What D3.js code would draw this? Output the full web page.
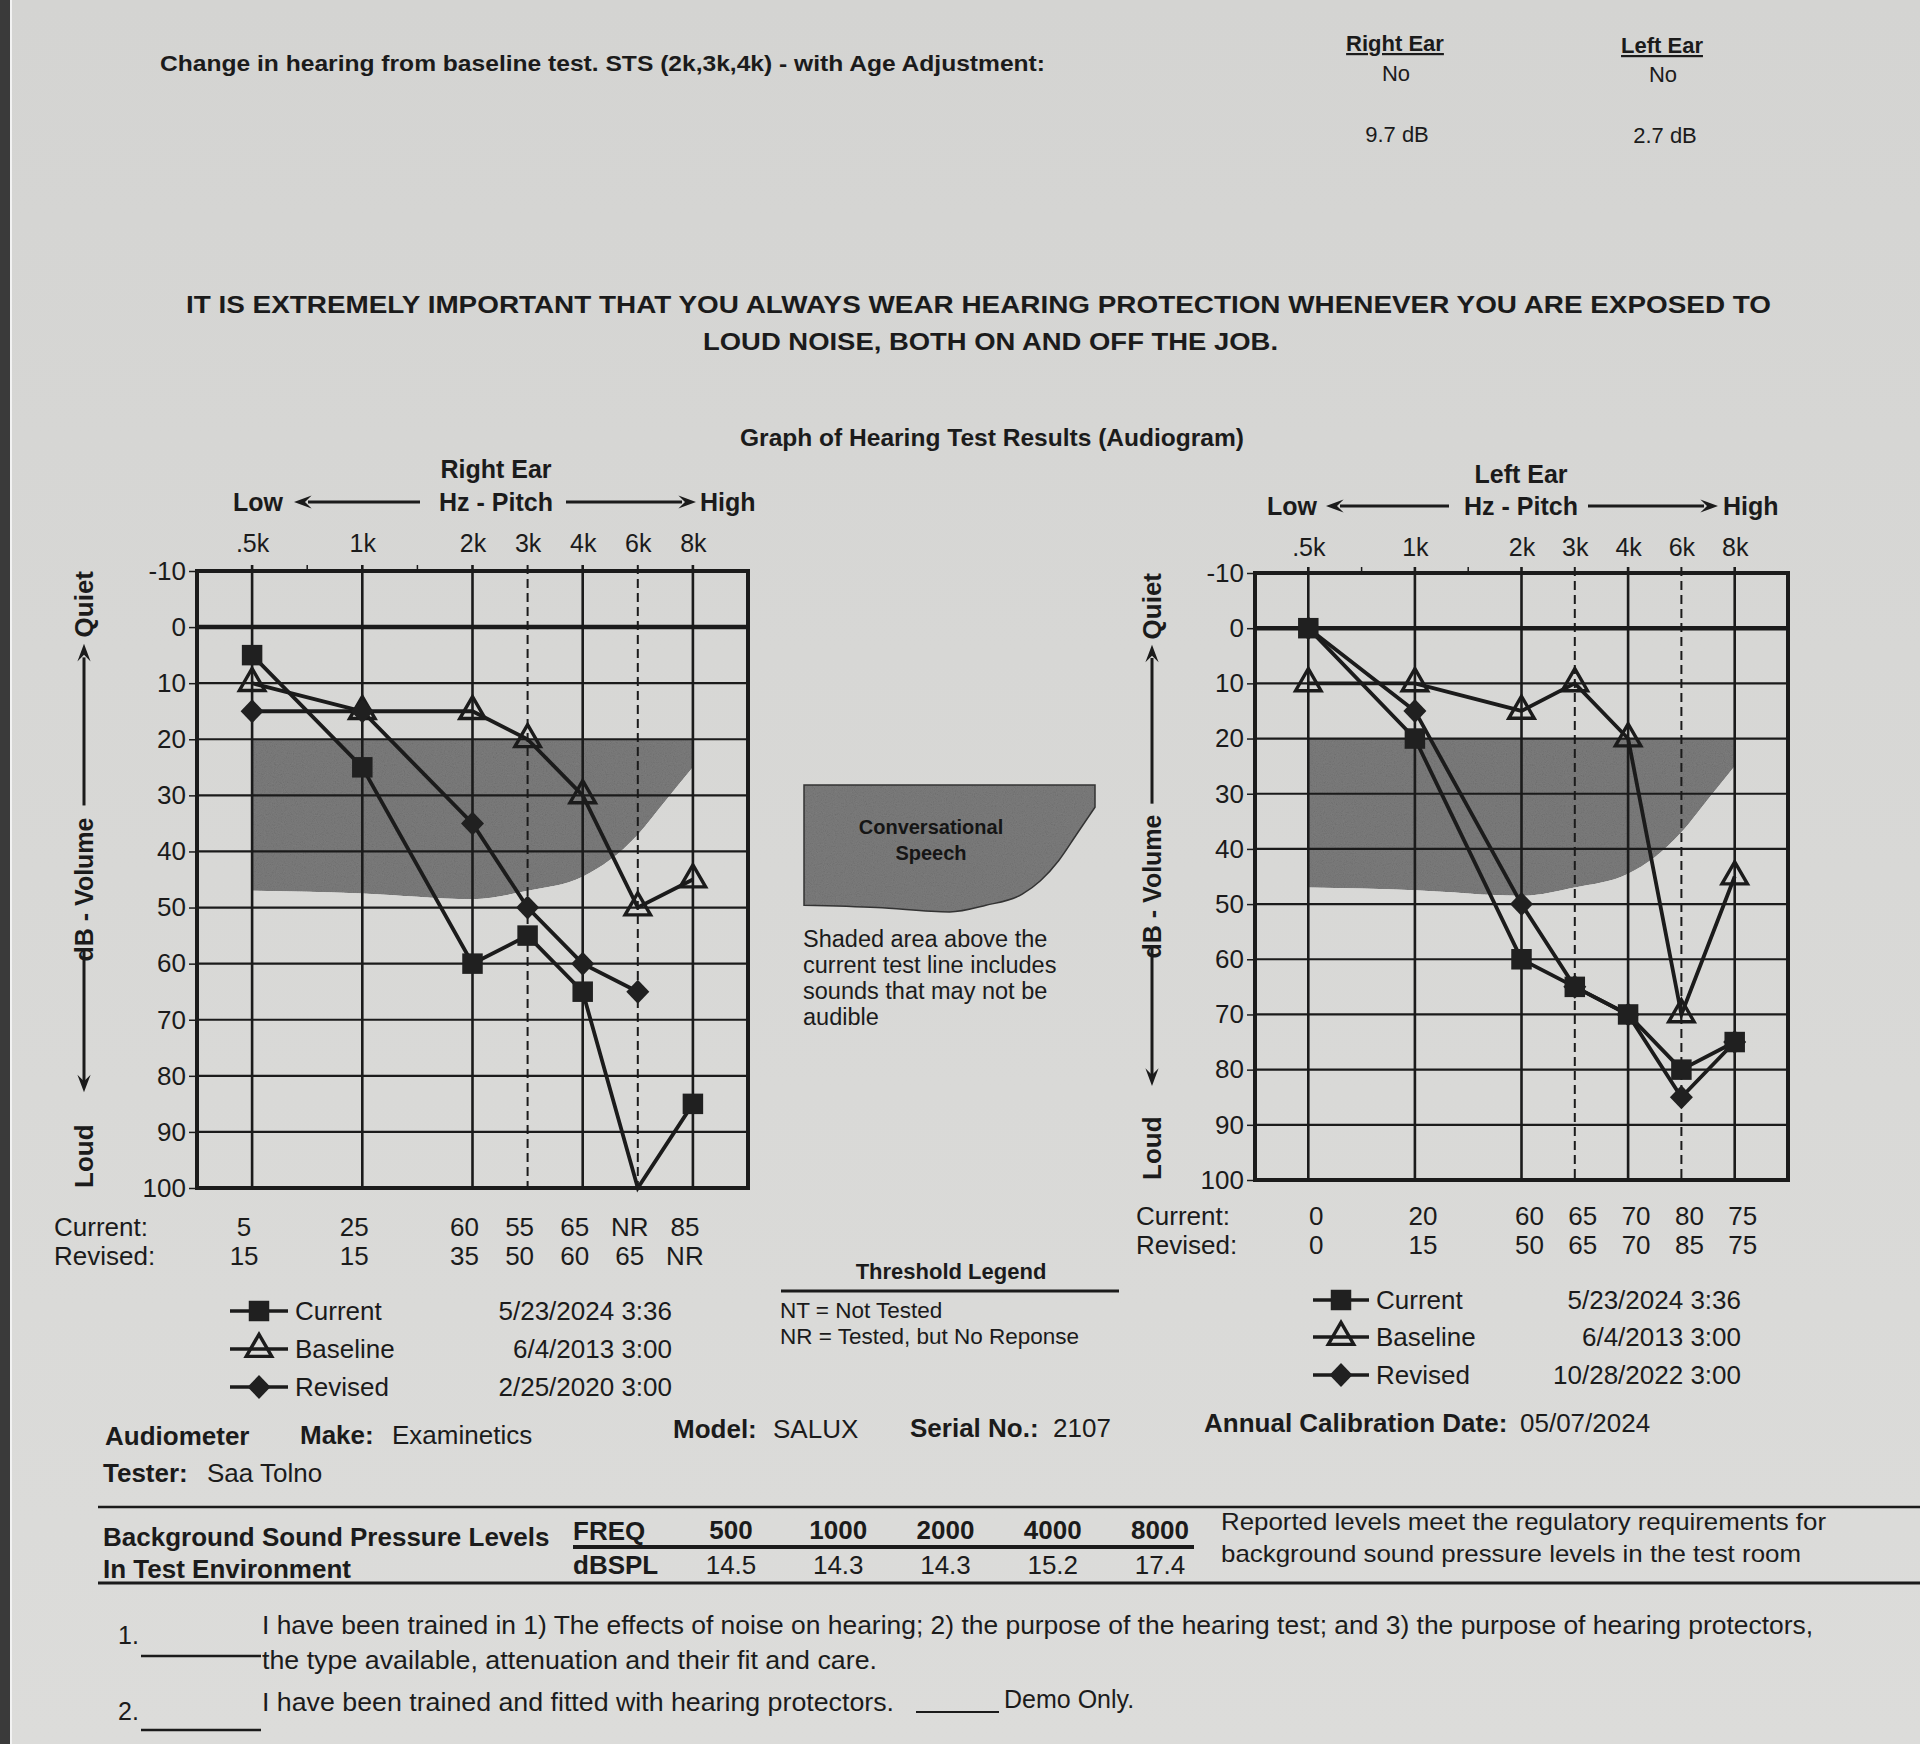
<!DOCTYPE html>
<html><head><meta charset="utf-8">
<script src="https://cdn.jsdelivr.net/npm/d3@7"></script>
<style>body{margin:0;background:#d7d7d5}svg{display:block;font-family:"Liberation Sans",Arial,sans-serif}</style>
</head><body><svg id="c" width="1920" height="1744"></svg>
<script>
// ---------------- data ----------------
const freqs = [500, 1000, 2000, 3000, 4000, 6000, 8000];
const freqLabels = [".5k", "1k", "2k", "3k", "4k", "6k", "8k"];
const dashedFreqs = [3000, 6000];
const minorFreqs = [750, 1500];
const dbTicks = [-10, 0, 10, 20, 30, 40, 50, 60, 70, 80, 90, 100];
const speechTop = 20;
const speechFreqs = [500, 1000, 2000, 3000, 4000, 5000, 6000, 7000, 8000];
const speechBottom = [47, 47.5, 48.5, 47, 44.5, 41.5, 37, 31, 25];

const rightCurrent = [5, 25, 60, 55, 65, 100, 85];
const rightCurrentText = ["5", "25", "60", "55", "65", "NR", "85"];
const rightBaseline = [10, 15, 15, 20, 30, 50, 45];
const rightRevised = [15, 15, 35, 50, 60, 65, null];
const rightRevisedText = ["15", "15", "35", "50", "60", "65", "NR"];

const leftCurrent = [0, 20, 60, 65, 70, 80, 75];
const leftCurrentText = ["0", "20", "60", "65", "70", "80", "75"];
const leftBaseline = [10, 10, 15, 10, 20, 70, 45];
const leftRevised = [0, 15, 50, 65, 70, 85, 75];
const leftRevisedText = ["0", "15", "50", "65", "70", "85", "75"];

const legendSeries = ["Current", "Baseline", "Revised"];
const rightDates = ["5/23/2024 3:36", "6/4/2013 3:00", "2/25/2020 3:00"];
const leftDates = ["5/23/2024 3:36", "6/4/2013 3:00", "10/28/2022 3:00"];

const bgFreqs = ["500", "1000", "2000", "4000", "8000"];
const bgLevels = ["14.5", "14.3", "14.3", "15.2", "17.4"];

// ---------------- drawing ----------------
const INK = "#1b1b1b";
const SHADE = "#7b7b7b";
const svg = d3.select("#c");
const defs = svg.append("defs");
const bg = defs.append("linearGradient").attr("id", "paper").attr("x1", 0).attr("y1", 0).attr("x2", 0).attr("y2", 1);
bg.append("stop").attr("offset", "0").attr("stop-color", "#d4d4d2");
bg.append("stop").attr("offset", "1").attr("stop-color", "#dcdcda");
const f = defs.append("filter").attr("id", "grain").attr("x", 0).attr("y", 0).attr("width", "100%").attr("height", "100%");
f.append("feTurbulence").attr("type", "fractalNoise").attr("baseFrequency", 0.9).attr("numOctaves", 2).attr("seed", 4).attr("result", "n");
f.append("feColorMatrix").attr("in", "n").attr("type", "saturate").attr("values", 0).attr("result", "g");
const ct = f.append("feComponentTransfer").attr("in", "g").attr("result", "g2");
["feFuncR", "feFuncG", "feFuncB"].forEach(k => ct.append(k).attr("type", "linear").attr("slope", 0.7).attr("intercept", 0.5));
f.append("feBlend").attr("in", "SourceGraphic").attr("in2", "g2").attr("mode", "multiply").attr("result", "b");
f.append("feComposite").attr("in", "b").attr("in2", "SourceGraphic").attr("operator", "in");

svg.append("rect").attr("width", 1920).attr("height", 1744).attr("fill", "url(#paper)");
svg.append("rect").attr("x", 0).attr("y", 0).attr("width", 10).attr("height", 1744).attr("fill", "#3a3a3a");
svg.append("rect").attr("x", 10).attr("y", 0).attr("width", 2).attr("height", 1744).attr("fill", "#f2f2f2");

function txt(sel, x, y, s, o = {}) {
  const t = sel.append("text").attr("x", x).attr("y", y).text(s)
    .attr("font-size", o.fs || 22).attr("font-weight", o.b ? "bold" : "normal")
    .attr("text-anchor", o.a || "start").attr("fill", o.fill || INK);
  if (o.tl) t.attr("textLength", o.tl).attr("lengthAdjust", "spacingAndGlyphs");
  if (o.u) t.attr("text-decoration", "underline");
  return t;
}
function hline(sel, x1, x2, y, w) {
  sel.append("line").attr("x1", x1).attr("x2", x2).attr("y1", y).attr("y2", y).attr("stroke", INK).attr("stroke-width", w || 2);
}

// ---- header ----
txt(svg, 160, 71, "Change in hearing from baseline test. STS (2k,3k,4k) - with Age Adjustment:", {fs: 22, b: true, tl: 885});
txt(svg, 1395, 51, "Right Ear", {fs: 22, b: true, a: "middle", u: true});
txt(svg, 1662, 53, "Left Ear", {fs: 22, b: true, a: "middle", u: true});
txt(svg, 1396, 81, "No", {fs: 22, a: "middle"});
txt(svg, 1663, 82, "No", {fs: 22, a: "middle"});
txt(svg, 1397, 142, "9.7 dB", {fs: 22, a: "middle"});
txt(svg, 1665, 143, "2.7 dB", {fs: 22, a: "middle"});
txt(svg, 186, 313, "IT IS EXTREMELY IMPORTANT THAT YOU ALWAYS WEAR HEARING PROTECTION WHENEVER YOU ARE EXPOSED TO", {fs: 24, b: true, tl: 1585});
txt(svg, 703, 350, "LOUD NOISE, BOTH ON AND OFF THE JOB.", {fs: 24, b: true, tl: 575});
txt(svg, 992, 446, "Graph of Hearing Test Results (Audiogram)", {fs: 24, b: true, a: "middle", tl: 504});

// ---- markers ----
const markerPath = {
  Current: d3.symbol(d3.symbolSquare, 420)(),
  Baseline: d3.symbol(d3.symbolTriangle, 280)(),
  Revised: "M0,-12L11.5,0L0,12L-11.5,0Z"
};
function marker(sel, type, cx, cy) {
  const p = sel.append("path").attr("d", markerPath[type]).attr("transform", `translate(${cx},${cy})`);
  if (type === "Baseline") p.attr("fill", "none").attr("stroke", INK).attr("stroke-width", 3.4).attr("stroke-linejoin", "miter");
  else p.attr("fill", "#202020");
  return p;
}
function arrowHead(sel, x, y, dir, s) {
  s = s || 12;
  let pts;
  if (dir === "l") pts = [[x, y], [x + s * 1.6, y - s * 0.6], [x + s, y], [x + s * 1.6, y + s * 0.6]];
  if (dir === "r") pts = [[x, y], [x - s * 1.6, y - s * 0.6], [x - s, y], [x - s * 1.6, y + s * 0.6]];
  if (dir === "u") pts = [[x, y], [x - s * 0.6, y + s * 1.6], [x, y + s], [x + s * 0.6, y + s * 1.6]];
  if (dir === "d") pts = [[x, y], [x - s * 0.6, y - s * 1.6], [x, y - s], [x + s * 0.6, y - s * 1.6]];
  sel.append("path").attr("d", "M" + pts.map(p => p.join(",")).join("L") + "Z").attr("fill", INK);
}

// ---- audiogram ----
function audiogram(c) {
  const g = svg.append("g");
  const L = c.left, T = c.top, W = c.w, H = c.h;
  const units = [1, 3, 5, 6, 7, 8, 9];
  const x = d3.scaleLinear().domain(freqs).range(units.map(u => L + u * W / 10));
  const y = d3.scaleLinear().domain([-10, 100]).range([T, T + H]);

  // titles
  txt(g, c.titleX, c.titleY, c.title, {fs: 25, b: true, a: "middle"});
  txt(g, c.lowX, c.pitchY, "Low", {fs: 25, b: true});
  txt(g, c.titleX, c.pitchY, "Hz - Pitch", {fs: 25, b: true, a: "middle"});
  txt(g, c.highX, c.pitchY, "High", {fs: 25, b: true});
  const ay = c.pitchY - 9;
  hline(g, c.arrL[0] + 14, c.arrL[1], ay, 3);
  arrowHead(g, c.arrL[0], ay, "l", 11);
  hline(g, c.arrR[0], c.arrR[1] - 14, ay, 3);
  arrowHead(g, c.arrR[1], ay, "r", 11);

  // speech banana
  const sp = speechFreqs.map((fq, i) => ({f: fq, v: speechBottom[i]}));
  const area = d3.area().x(d => x(d.f)).y0(() => y(speechTop)).y1(d => y(d.v)).curve(d3.curveMonotoneX);
  g.append("path").attr("d", area(sp)).attr("fill", SHADE).attr("filter", "url(#grain)");

  // grid
  dbTicks.filter(d => d !== -10 && d !== 100).forEach(d => {
    hline(g, L, L + W, y(d), d === 0 ? 4.5 : 2.2);
  });
  freqs.forEach(fq => {
    const dashed = dashedFreqs.includes(fq);
    g.append("line").attr("x1", x(fq)).attr("x2", x(fq)).attr("y1", T - 6).attr("y2", T + H)
      .attr("stroke", INK).attr("stroke-width", dashed ? 2 : 2.6)
      .attr("stroke-dasharray", dashed ? "9,5" : null);
  });
  minorFreqs.forEach(fq => {
    g.append("line").attr("x1", x(fq)).attr("x2", x(fq)).attr("y1", T - 6).attr("y2", T).attr("stroke", INK).attr("stroke-width", 1.5);
  });
  g.append("rect").attr("x", L).attr("y", T).attr("width", W).attr("height", H)
    .attr("fill", "none").attr("stroke", INK).attr("stroke-width", 4);

  // axes
  const ya = g.append("g").attr("transform", `translate(${L},0)`)
    .call(d3.axisLeft(y).tickValues(dbTicks).tickFormat(d => String(d)).tickSize(8).tickPadding(3));
  ya.select(".domain").remove();
  ya.selectAll("line").attr("stroke", INK).attr("stroke-width", 1.5);
  ya.selectAll("text").attr("font-size", 26).attr("fill", INK).attr("font-family", "Liberation Sans, Arial, sans-serif");
  const xa = g.append("g").attr("transform", `translate(0,${T})`)
    .call(d3.axisTop(x).tickValues(freqs).tickFormat((d, i) => freqLabels[i]).tickSize(0).tickPadding(T - c.freqY));
  xa.select(".domain").remove();
  xa.selectAll("text").attr("font-size", 25).attr("fill", INK).attr("font-family", "Liberation Sans, Arial, sans-serif");

  // rotated y title
  const rg = g.append("g").attr("transform", `translate(${c.axX},0) rotate(-90)`);
  txt(rg, -(T + H), 9, "Loud", {fs: 26, b: true});
  txt(rg, -(T + H / 2 + 10), 9, "dB - Volume", {fs: 25, b: true, a: "middle"});
  txt(rg, -T, 9, "Quiet", {fs: 26, b: true, a: "end"});
  g.append("line").attr("x1", c.axX).attr("x2", c.axX).attr("y1", T + H * 0.613).attr("y2", T + H * 0.83).attr("stroke", INK).attr("stroke-width", 3);
  arrowHead(g, c.axX, T + H * 0.845, "d", 11);
  g.append("line").attr("x1", c.axX).attr("x2", c.axX).attr("y1", T + H * 0.38).attr("y2", T + H * 0.14).attr("stroke", INK).attr("stroke-width", 3);
  arrowHead(g, c.axX, T + H * 0.118, "u", 11);

  // series lines
  const line = d3.line().defined(d => d.v != null).x(d => x(d.f)).y(d => y(d.v));
  const series = [
    {name: "Baseline", vals: c.baseline, txt: null},
    {name: "Revised", vals: c.revised, txt: c.revisedText},
    {name: "Current", vals: c.current, txt: c.currentText}
  ];
  series.forEach(s => {
    const pts = freqs.map((fq, i) => ({f: fq, v: s.vals[i]}));
    g.append("path").attr("d", line(pts)).attr("fill", "none").attr("stroke", INK)
      .attr("stroke-width", 3.8).attr("stroke-linejoin", "miter");
  });
  series.forEach(s => {
    freqs.forEach((fq, i) => {
      if (s.vals[i] == null) return;
      if (s.txt && s.txt[i] === "NR") return;
      marker(g, s.name, x(fq), y(s.vals[i]));
    });
  });

  // threshold value rows
  txt(g, c.rowLabelX, c.curY, "Current:", {fs: 26});
  txt(g, c.rowLabelX, c.revY, "Revised:", {fs: 26});
  freqs.forEach((fq, i) => {
    txt(g, x(fq) + c.valOff, c.curY, c.currentText[i], {fs: 26, a: "middle"});
    txt(g, x(fq) + c.valOff, c.revY, c.revisedText[i], {fs: 26, a: "middle"});
  });

  // legend
  legendSeries.forEach((s, i) => {
    const ly = c.legY[i];
    hline(g, c.legX[0], c.legX[1], ly - 9, 3.5);
    marker(g, s, (c.legX[0] + c.legX[1]) / 2, ly - 9);
    txt(g, c.legLabelX, ly, s, {fs: 26});
    txt(g, c.legDateX, ly, c.dates[i], {fs: 26, a: "end"});
  });
}

audiogram({
  title: "Right Ear", left: 197, top: 571, w: 551, h: 617,
  titleX: 496, titleY: 478, pitchY: 511, lowX: 233, highX: 700,
  arrL: [294, 420], arrR: [566, 696], freqY: 552, axX: 84,
  current: rightCurrent, currentText: rightCurrentText,
  baseline: rightBaseline, revised: rightRevised, revisedText: rightRevisedText,
  rowLabelX: 54, curY: 1236, revY: 1265, valOff: -8,
  legX: [230, 288], legLabelX: 295, legDateX: 672, legY: [1320, 1358, 1396], dates: rightDates
});
audiogram({
  title: "Left Ear", left: 1255, top: 573, w: 533, h: 607,
  titleX: 1521, titleY: 483, pitchY: 515, lowX: 1267, highX: 1723,
  arrL: [1326, 1449], arrR: [1588, 1718], freqY: 556, axX: 1152,
  current: leftCurrent, currentText: leftCurrentText,
  baseline: leftBaseline, revised: leftRevised, revisedText: leftRevisedText,
  rowLabelX: 1136, curY: 1225, revY: 1254, valOff: 8,
  legX: [1313, 1369], legLabelX: 1376, legDateX: 1741, legY: [1309, 1346, 1384], dates: leftDates
});

// ---- middle: speech icon + notes ----
(function () {
  const g = svg.append("g");
  const units = [1, 3, 5, 6, 7, 8, 9];
  const mx = d3.scaleLinear().domain(freqs).range(units.map(u => 804 + (u - 1) * 291 / 8));
  const my = d3.scaleLinear().domain([speechTop, 48.5]).range([785, 912]);
  const sp = speechFreqs.map((fq, i) => ({f: fq, v: speechBottom[i]}));
  const area = d3.area().x(d => mx(d.f)).y0(() => my(speechTop)).y1(d => my(d.v)).curve(d3.curveMonotoneX);
  g.append("path").attr("d", area(sp)).attr("fill", SHADE).attr("filter", "url(#grain)");
  g.append("path").attr("d", area(sp)).attr("fill", "none").attr("stroke", "#333").attr("stroke-width", 1.5);
  txt(g, 931, 834, "Conversational", {fs: 20, b: true, a: "middle", fill: "#151515"});
  txt(g, 931, 860, "Speech", {fs: 20, b: true, a: "middle", fill: "#151515"});
  ["Shaded area above the", "current test line includes", "sounds that may not be", "audible"].forEach((s, i) => {
    txt(g, 803, 947 + i * 26, s, {fs: 23.5});
  });
  txt(g, 951, 1279, "Threshold Legend", {fs: 22, b: true, a: "middle"});
  hline(g, 781, 1119, 1291, 3);
  txt(g, 780, 1318, "NT = Not Tested", {fs: 22.5});
  txt(g, 780, 1344, "NR = Tested, but No Reponse", {fs: 22.5});
})();

// ---- audiometer info ----
txt(svg, 105, 1445, "Audiometer", {fs: 26, b: true});
txt(svg, 300, 1444, "Make:", {fs: 26, b: true});
txt(svg, 392, 1444, "Examinetics", {fs: 26});
txt(svg, 673, 1438, "Model:", {fs: 26, b: true});
txt(svg, 773, 1438, "SALUX", {fs: 26});
txt(svg, 910, 1437, "Serial No.:", {fs: 26, b: true});
txt(svg, 1053, 1437, "2107", {fs: 26});
txt(svg, 1204, 1432, "Annual Calibration Date:", {fs: 26, b: true});
txt(svg, 1520, 1432, "05/07/2024", {fs: 26});
txt(svg, 103, 1482, "Tester:", {fs: 26, b: true});
txt(svg, 207, 1482, "Saa Tolno", {fs: 26});

// ---- background SPL table ----
hline(svg, 98, 1920, 1507, 2.5);
txt(svg, 103, 1546, "Background Sound Pressure Levels", {fs: 26, b: true});
txt(svg, 103, 1578, "In Test Environment", {fs: 26, b: true});
txt(svg, 573, 1540, "FREQ", {fs: 26, b: true});
txt(svg, 573, 1574, "dBSPL", {fs: 26, b: true});
const colX = d3.scalePoint().domain(bgFreqs).range([731, 1160]);
bgFreqs.forEach((fq, i) => {
  txt(svg, colX(fq), 1539, fq, {fs: 26, b: true, a: "middle"});
  txt(svg, colX(fq), 1574, bgLevels[i], {fs: 26, a: "middle"});
});
hline(svg, 573, 1194, 1547, 4);
txt(svg, 1221, 1530, "Reported levels meet the regulatory requirements for", {fs: 24, tl: 605});
txt(svg, 1221, 1562, "background sound pressure levels in the test room", {fs: 24, tl: 580});
hline(svg, 98, 1920, 1583, 3);

// ---- acknowledgements ----
txt(svg, 118, 1644, "1.", {fs: 25});
hline(svg, 141, 261, 1656, 2.5);
txt(svg, 262, 1634, "I have been trained in 1) The effects of noise on hearing; 2) the purpose of the hearing test; and 3) the purpose of hearing protectors,", {fs: 25, tl: 1551});
txt(svg, 262, 1669, "the type available, attenuation and their fit and care.", {fs: 25, tl: 615});
txt(svg, 118, 1720, "2.", {fs: 25});
hline(svg, 141, 261, 1730, 2.5);
txt(svg, 262, 1711, "I have been trained and fitted with hearing protectors.", {fs: 25, tl: 632});
hline(svg, 916, 999, 1712, 2);
txt(svg, 1004, 1708, "Demo Only.", {fs: 25});
</script></body></html>
